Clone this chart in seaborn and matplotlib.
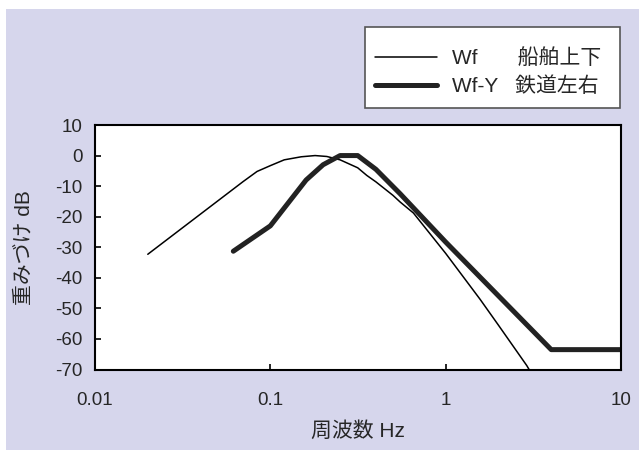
import numpy as np
import pandas as pd
import matplotlib
matplotlib.use("Agg")
import matplotlib.pyplot as plt
from matplotlib.patches import Rectangle
import seaborn as sns

# Wf (ship, vertical) weighting curve
wf_freq = [0.02, 0.07, 0.084, 0.1, 0.12, 0.15, 0.18, 0.21, 0.25, 0.315, 0.355, 0.4, 0.5, 0.55, 0.655, 1.0, 1.57, 2.0, 2.9, 3.1]
wf_db = [-32.3, -8.5, -5.2, -3.3, -1.4, -0.4, 0.0, -0.3, -1.4, -4.0, -6.5, -8.6, -13.0, -15.2, -18.8, -32.0, -47.0, -55.5, -68.7, -71.5]

# Wf-Y (railway, lateral) weighting curve
wfy_freq = [0.0615, 0.1, 0.16, 0.2, 0.25, 0.315, 0.4, 0.55, 1.0, 4.0, 10.0]
wfy_db = [-31.3, -23.0, -8.0, -3.0, 0.0, 0.0, -4.5, -12.5, -28.3, -63.5, -63.5]

labels = ["Wf       船舶上下", "Wf-Y   鉄道左右"]
x_ticks = [0.01, 0.1, 1, 10]
x_ticklabels = ["0.01", "0.1", "1", "10"]
y_ticks = list(range(10, -80, -10))

sns.set_style("ticks")
plt.rcParams["font.family"] = ["Liberation Sans", "Noto Sans CJK JP", "DejaVu Sans"]
plt.rcParams["axes.unicode_minus"] = False

fig = plt.figure(figsize=(6.39, 4.5), dpi=100)
fig.patch.set_facecolor("white")
# lavender backdrop
fig.patches.append(Rectangle((6 / 639, 0), 633 / 639, 441 / 450, transform=fig.transFigure,
                             facecolor="#d6d6ec", edgecolor="none", zorder=-10))
# legend box
fig.patches.append(Rectangle((365 / 639, 1 - 108 / 450), 255 / 639, 81 / 450, transform=fig.transFigure,
                             facecolor="white", edgecolor="#555555", linewidth=1.2, zorder=-5))

ax = fig.add_axes([95 / 639, 80.5 / 450, 526 / 639, 244.5 / 450])
ax.set_facecolor("white")

df_wf = pd.DataFrame({"freq": wf_freq, "db": wf_db})
df_wfy = pd.DataFrame({"freq": wfy_freq, "db": wfy_db})
sns.lineplot(data=df_wf, x="freq", y="db", ax=ax, color="black", linewidth=1.1, label=labels[0])
sns.lineplot(data=df_wfy, x="freq", y="db", ax=ax, color="#222222", linewidth=3.6, label=labels[1])

ax.set_xscale("log")
ax.set_xlim(0.01, 10)
ax.set_ylim(-70, 10)
ax.set_xticks(x_ticks)
ax.set_xticklabels(x_ticklabels)
ax.xaxis.set_minor_locator(matplotlib.ticker.NullLocator())
ax.set_yticks(y_ticks)
ax.set_yticklabels([str(v) for v in y_ticks])
ax.tick_params(axis="x", direction="in", length=4, width=1.2, labelsize=13.5, pad=16, color="black")
ax.tick_params(axis="y", direction="in", length=4, width=1.2, labelsize=13.5, pad=9, color="black")
for s in ax.spines.values():
    s.set_linewidth(1.5)
    s.set_color("black")

ax.set_xlabel("周波数 Hz", fontsize=15)
ax.set_ylabel("重みづけ dB", fontsize=15)
ax.xaxis.set_label_coords(0.5, -0.21)
ax.yaxis.set_label_coords(-0.117, 0.5)

handles, labs = ax.get_legend_handles_labels()
ax.get_legend().remove()
leg = fig.legend(handles, labs, loc="upper left", bbox_to_anchor=(366 / 639, 1 - 39 / 450),
                 borderaxespad=0, fontsize=15, frameon=False,
                 handlelength=2.97, handletextpad=0.72, labelspacing=0.4, borderpad=0.45)

fig.savefig("out.png", dpi=100)
